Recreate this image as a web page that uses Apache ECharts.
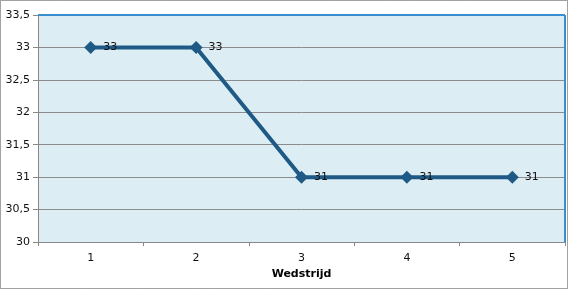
<!DOCTYPE html>
<html><head><meta charset="utf-8">
<script src="https://cdn.jsdelivr.net/npm/echarts@6/dist/echarts.min.js"></script>
<style>html,body{margin:0;padding:0;background:#fff}#c{width:568px;height:289px}</style>
</head><body><div id="c"></div>
<script>
const categories = ['1','2','3','4','5'];
const values = [33,33,31,31,31];
const yTicks = {min:30,max:33.5,interval:0.5};
const xTitle = 'Wedstrijd';

const chart = echarts.init(document.getElementById('c'), null, {renderer:'canvas'});
chart.setOption({
  animation:false,
  backgroundColor:'#fff',
  grid:{left:38,right:3,top:15,bottom:47,show:true,backgroundColor:'#dcedf4',borderWidth:0},
  xAxis:{type:'category',data:categories,boundaryGap:true,
    name:xTitle,nameLocation:'middle',nameGap:24,
    nameTextStyle:{fontFamily:'DejaVu Sans',fontWeight:'bold',fontSize:11,color:'#000'},
    axisLine:{lineStyle:{color:'#888',width:1}},
    axisTick:{show:true,length:4,lineStyle:{color:'#888'}},
    axisLabel:{fontFamily:'DejaVu Sans',fontSize:11,color:'#111',margin:11}},
  yAxis:{type:'value',min:yTicks.min,max:yTicks.max,interval:yTicks.interval,
    axisLine:{show:true,lineStyle:{color:'#888'}},
    axisTick:{show:true,length:5,lineStyle:{color:'#888'}},
    axisLabel:{fontFamily:'DejaVu Sans',fontSize:11,color:'#111',margin:8,
      formatter:v=>String(v).replace('.',',')},
    splitLine:{show:true,lineStyle:{color:'#8c8c8c',width:1}}},
  series:[{type:'line',data:values,symbol:'diamond',symbolSize:13,
    lineStyle:{color:'#1f5a86',width:4},itemStyle:{color:'#1f5a86'},
    label:{show:true,position:'right',distance:6,fontFamily:'DejaVu Sans',fontSize:11,color:'#111'}}],
  graphic:[
    {type:'line',shape:{x1:38,y1:15,x2:565,y2:15},style:{stroke:'#3a8fd0',lineWidth:2},z:100},
    {type:'line',shape:{x1:565,y1:15,x2:565,y2:242},style:{stroke:'#3a8fd0',lineWidth:2},z:100},
    {type:'rect',shape:{x:0.5,y:0.5,width:567,height:288},style:{fill:null,stroke:'#444',lineWidth:1,lineDash:[1,1]},z:100}
  ]
});
</script></body></html>
